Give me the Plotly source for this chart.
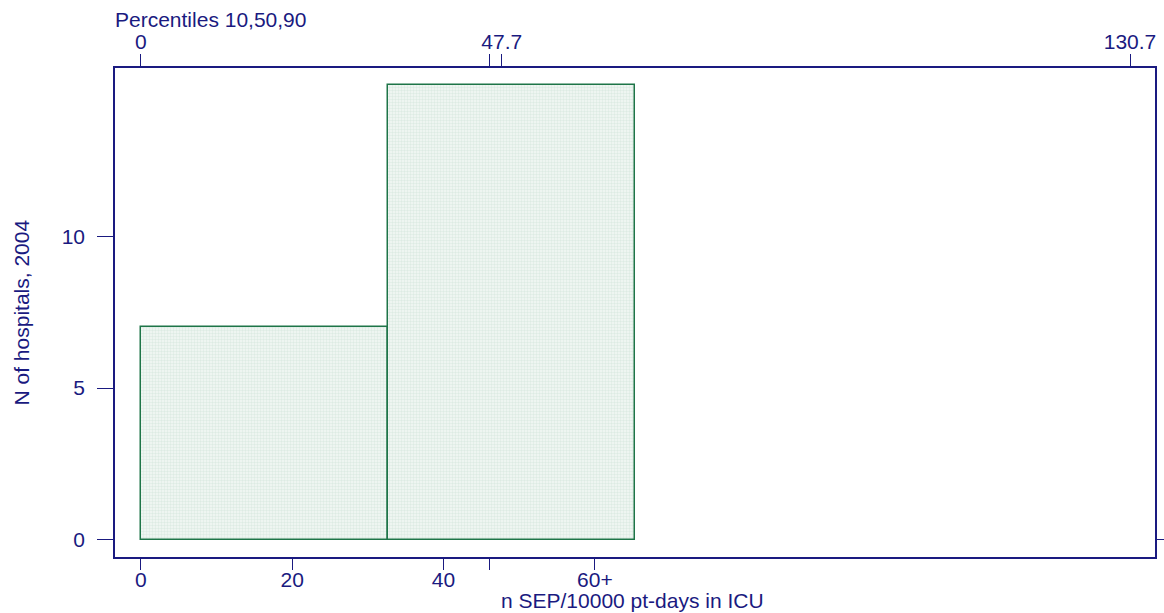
import plotly.graph_objects as go

# Data
bin_edges = [0.0, 32.67, 65.33]
counts = [7, 15]
bottom_tickvals = [0, 20, 40, 46.1, 60]
bottom_ticktext = ["0", "20", "40", "", "60+"]
top_tickvals = [0, 46.1, 47.7, 130.7]
top_ticktext = ["0", "", "47.7", "130.7"]
y_tickvals = [0, 5, 10]

NAVY = "#1a1a80"
GREEN = "#1e7548"
FONT = "Liberation Sans, Arial, sans-serif"
FS = 21

centers = [(bin_edges[i] + bin_edges[i + 1]) / 2 for i in range(len(counts))]
widths = [bin_edges[i + 1] - bin_edges[i] for i in range(len(counts))]

fig = go.Figure()
fig.add_trace(go.Bar(
    x=centers, y=counts, width=widths,
    marker=dict(color="#e6f0eb", line=dict(color=GREEN, width=1.5),
                pattern=dict(shape=".", fgcolor="#c8ded2", bgcolor="#f3f8f5", size=3, solidity=0.5)),
    showlegend=False, hoverinfo="skip",
))
fig.add_trace(go.Scatter(x=[0], y=[0], xaxis="x2", yaxis="y", mode="markers",
                         marker=dict(opacity=0), showlegend=False, hoverinfo="skip"))
fig.add_trace(go.Scatter(x=[0], y=[0], xaxis="x", yaxis="y2", mode="markers",
                         marker=dict(opacity=0), showlegend=False, hoverinfo="skip"))

xr = [-3.4, 134.0]
yr = [-0.574, 15.56]
axis_common = dict(showgrid=False, zeroline=False, showline=True, linecolor=NAVY, linewidth=1.5,
                   ticks="outside", tickcolor=NAVY, tickwidth=1.3, automargin=False,
                   tickfont=dict(family=FONT, size=FS, color=NAVY))

fig.update_layout(
    width=1164, height=613,
    margin=dict(l=115, r=9, t=68, b=56, autoexpand=False),
    paper_bgcolor="white", plot_bgcolor="white",
    bargap=0,
    xaxis=dict(range=xr, tickmode="array", tickvals=bottom_tickvals, ticktext=bottom_ticktext,
               ticklen=11, ticklabelstandoff=-8, **axis_common),
    xaxis2=dict(range=xr, overlaying="x", side="top", tickmode="array", tickvals=top_tickvals,
                ticktext=top_ticktext, ticklen=12, ticklabelstandoff=-3, **axis_common),
    yaxis=dict(range=yr, tickmode="array", tickvals=y_tickvals, ticktext=[str(v) for v in y_tickvals],
               ticklen=16, ticklabelstandoff=8, **axis_common),
    yaxis2=dict(range=yr, overlaying="y", side="right", tickmode="array", tickvals=[0], ticktext=[""],
                ticklen=9, **axis_common),
    annotations=[
        dict(text="Percentiles 10,50,90", xref="paper", yref="paper", x=0.0, y=1.0,
             xanchor="left", yanchor="middle", xshift=-2, yshift=49, showarrow=False,
             font=dict(family=FONT, size=FS, color=NAVY)),
        dict(text="n SEP/10000 pt-days in ICU", xref="paper", yref="paper", x=0.5, y=0.0,
             xanchor="center", yanchor="middle", xshift=-3, yshift=-43, showarrow=False,
             font=dict(family=FONT, size=FS, color=NAVY)),
        dict(text="N of hospitals, 2004", xref="paper", yref="paper", x=0.0, y=0.5,
             xanchor="center", yanchor="middle", xshift=-94, textangle=-90, showarrow=False,
             font=dict(family=FONT, size=FS, color=NAVY)),
    ],
)
fig.write_html("out.html", config={"displayModeBar": False},
               post_script="document.body.style.margin='0';document.body.style.overflow='hidden';")
